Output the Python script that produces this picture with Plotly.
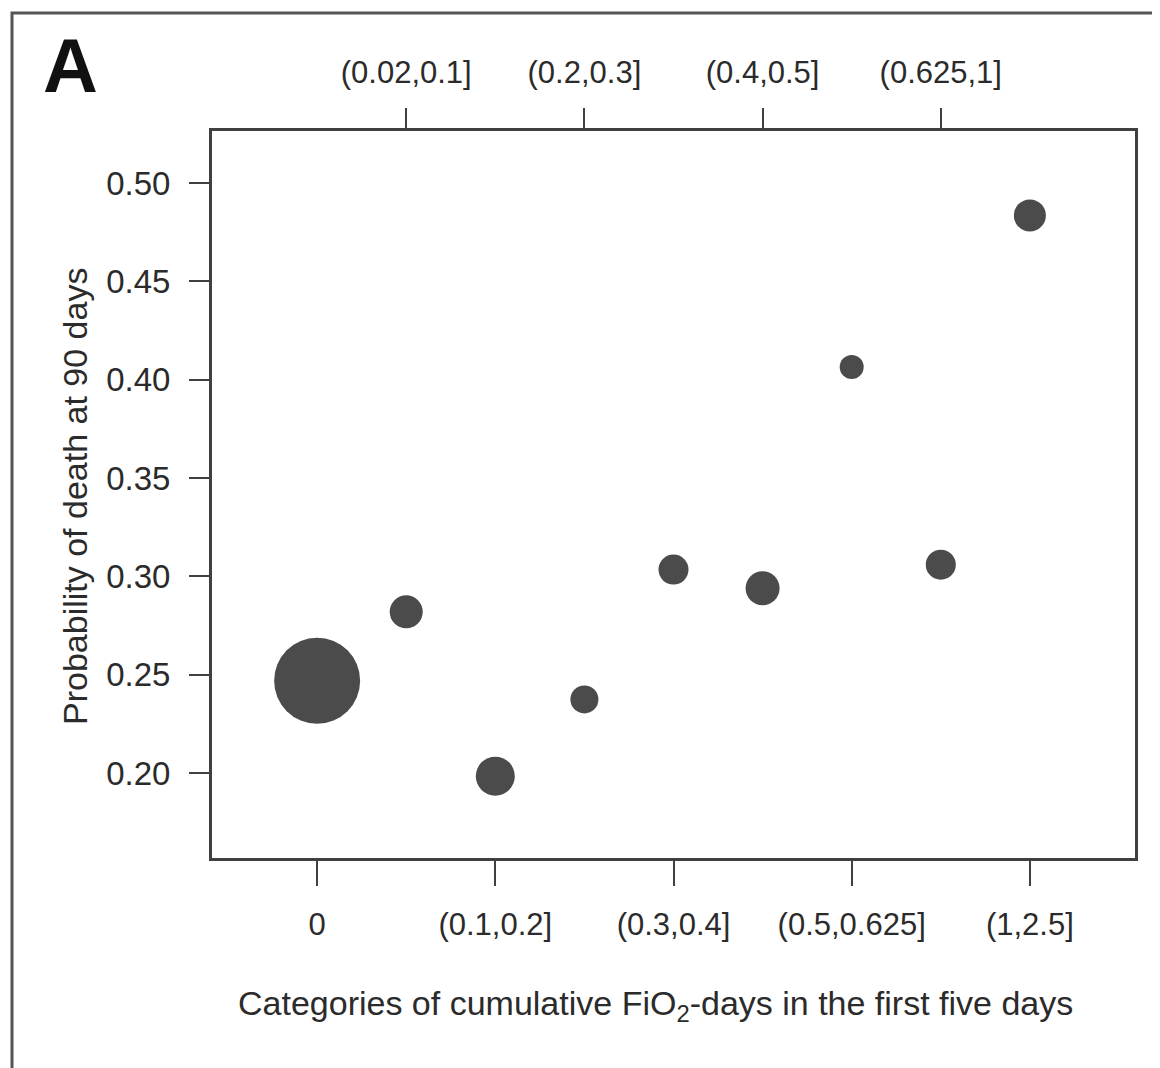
import plotly.graph_objects as go

# ---- data ----
categories = ["0", "(0.02,0.1]", "(0.1,0.2]", "(0.2,0.3]", "(0.3,0.4]",
              "(0.4,0.5]", "(0.5,0.625]", "(0.625,1]", "(1,2.5]"]
prob_death = [0.247, 0.282, 0.1985, 0.2375, 0.3035, 0.294, 0.4065, 0.306, 0.4835]
bubble_diam = [86, 33, 39, 28, 30, 34, 24, 30, 32]
y_ticks = [0.20, 0.25, 0.30, 0.35, 0.40, 0.45, 0.50]
y_ticklabels = ["0.20", "0.25", "0.30", "0.35", "0.40", "0.45", "0.50"]

idx = list(range(len(categories)))
bottom_idx = idx[0::2]
top_idx = idx[1::2]

OFF = 8  # page body margin
W, H = 1160 - OFF, 1068 - OFF
# plot box in page pixels: left 212, right 1135, top 131, bottom 858
L = 212 - OFF
T = 131 - OFF
R = W - (1135 - OFF)
B = H - (858 - OFF)
FONT = "Liberation Sans, Arial, sans-serif"
TXT = "#2b2b2b"
AX = "#404040"
DOT = "#4b4b4b"

fig = go.Figure()
fig.add_trace(go.Scatter(
    x=idx, y=prob_death, mode="markers",
    marker=dict(size=bubble_diam, color=DOT, opacity=1, line=dict(width=0)),
    hoverinfo="x+y", showlegend=False, xaxis="x", yaxis="y"))
fig.add_trace(go.Scatter(
    x=idx, y=prob_death, mode="markers",
    marker=dict(size=1, opacity=0), hoverinfo="skip",
    showlegend=False, xaxis="x2", yaxis="y"))

xrange = [-1.18, 9.18]
fig.update_layout(
    width=W, height=H,
    margin=dict(l=L, r=R, t=T, b=B, autoexpand=False),
    paper_bgcolor="white", plot_bgcolor="white",
    font=dict(family=FONT, size=31, color=TXT),
    xaxis=dict(range=xrange, tickmode="array", tickvals=bottom_idx,
               ticktext=[categories[i] for i in bottom_idx],
               showgrid=False, zeroline=False, showline=True, mirror=True,
               linecolor=AX, linewidth=3, ticks="outside", ticklen=25,
               tickwidth=2, tickcolor=AX, ticklabelstandoff=12,
               tickfont=dict(size=31, color=TXT)),
    xaxis2=dict(range=xrange, overlaying="x", side="top", anchor="y",
                tickmode="array", tickvals=top_idx,
                ticktext=[categories[i] for i in top_idx],
                showgrid=False, zeroline=False, showline=False,
                ticks="outside", ticklen=22, tickwidth=2, tickcolor=AX,
                ticklabelstandoff=13, tickfont=dict(size=31, color=TXT)),
    yaxis=dict(range=[0.1569, 0.5264], tickmode="array", tickvals=y_ticks,
               ticktext=y_ticklabels, showgrid=False, zeroline=False,
               showline=True, mirror=True, linecolor=AX, linewidth=3,
               ticks="outside", ticklen=20, tickwidth=2, tickcolor=AX,
               ticklabelstandoff=12, tickfont=dict(size=33, color=TXT)),
)

pw, ph = W - L - R, H - T - B
def px_x(p):
    return (p - OFF - L) / pw
def px_y(p):
    return (H - B - (p - OFF)) / ph

# outer frame of the figure panel
fig.add_shape(type="rect", xref="paper", yref="paper",
              x0=px_x(12), x1=px_x(1175), y0=px_y(1080), y1=px_y(13),
              line=dict(color="#555555", width=3), fillcolor="rgba(0,0,0,0)",
              layer="below")

# panel label
fig.add_annotation(text="<b>A</b>", xref="paper", yref="paper",
                   x=px_x(41), y=px_y(66), xanchor="left", yanchor="middle",
                   showarrow=False, font=dict(size=76, color="#111111", family=FONT))

# axis titles
fig.add_annotation(text="Categories of cumulative FiO<sub>2</sub>-days in the first five days",
                   xref="paper", yref="paper", x=px_x(655), y=px_y(1005),
                   xanchor="center", yanchor="middle", showarrow=False,
                   font=dict(size=34, color=TXT, family=FONT))
fig.add_annotation(text="Probability of death at 90 days",
                   xref="paper", yref="paper", x=px_x(75), y=px_y(497),
                   xanchor="center", yanchor="middle", textangle=-90,
                   showarrow=False, font=dict(size=34, color=TXT, family=FONT))

fig.write_html("out.html")
